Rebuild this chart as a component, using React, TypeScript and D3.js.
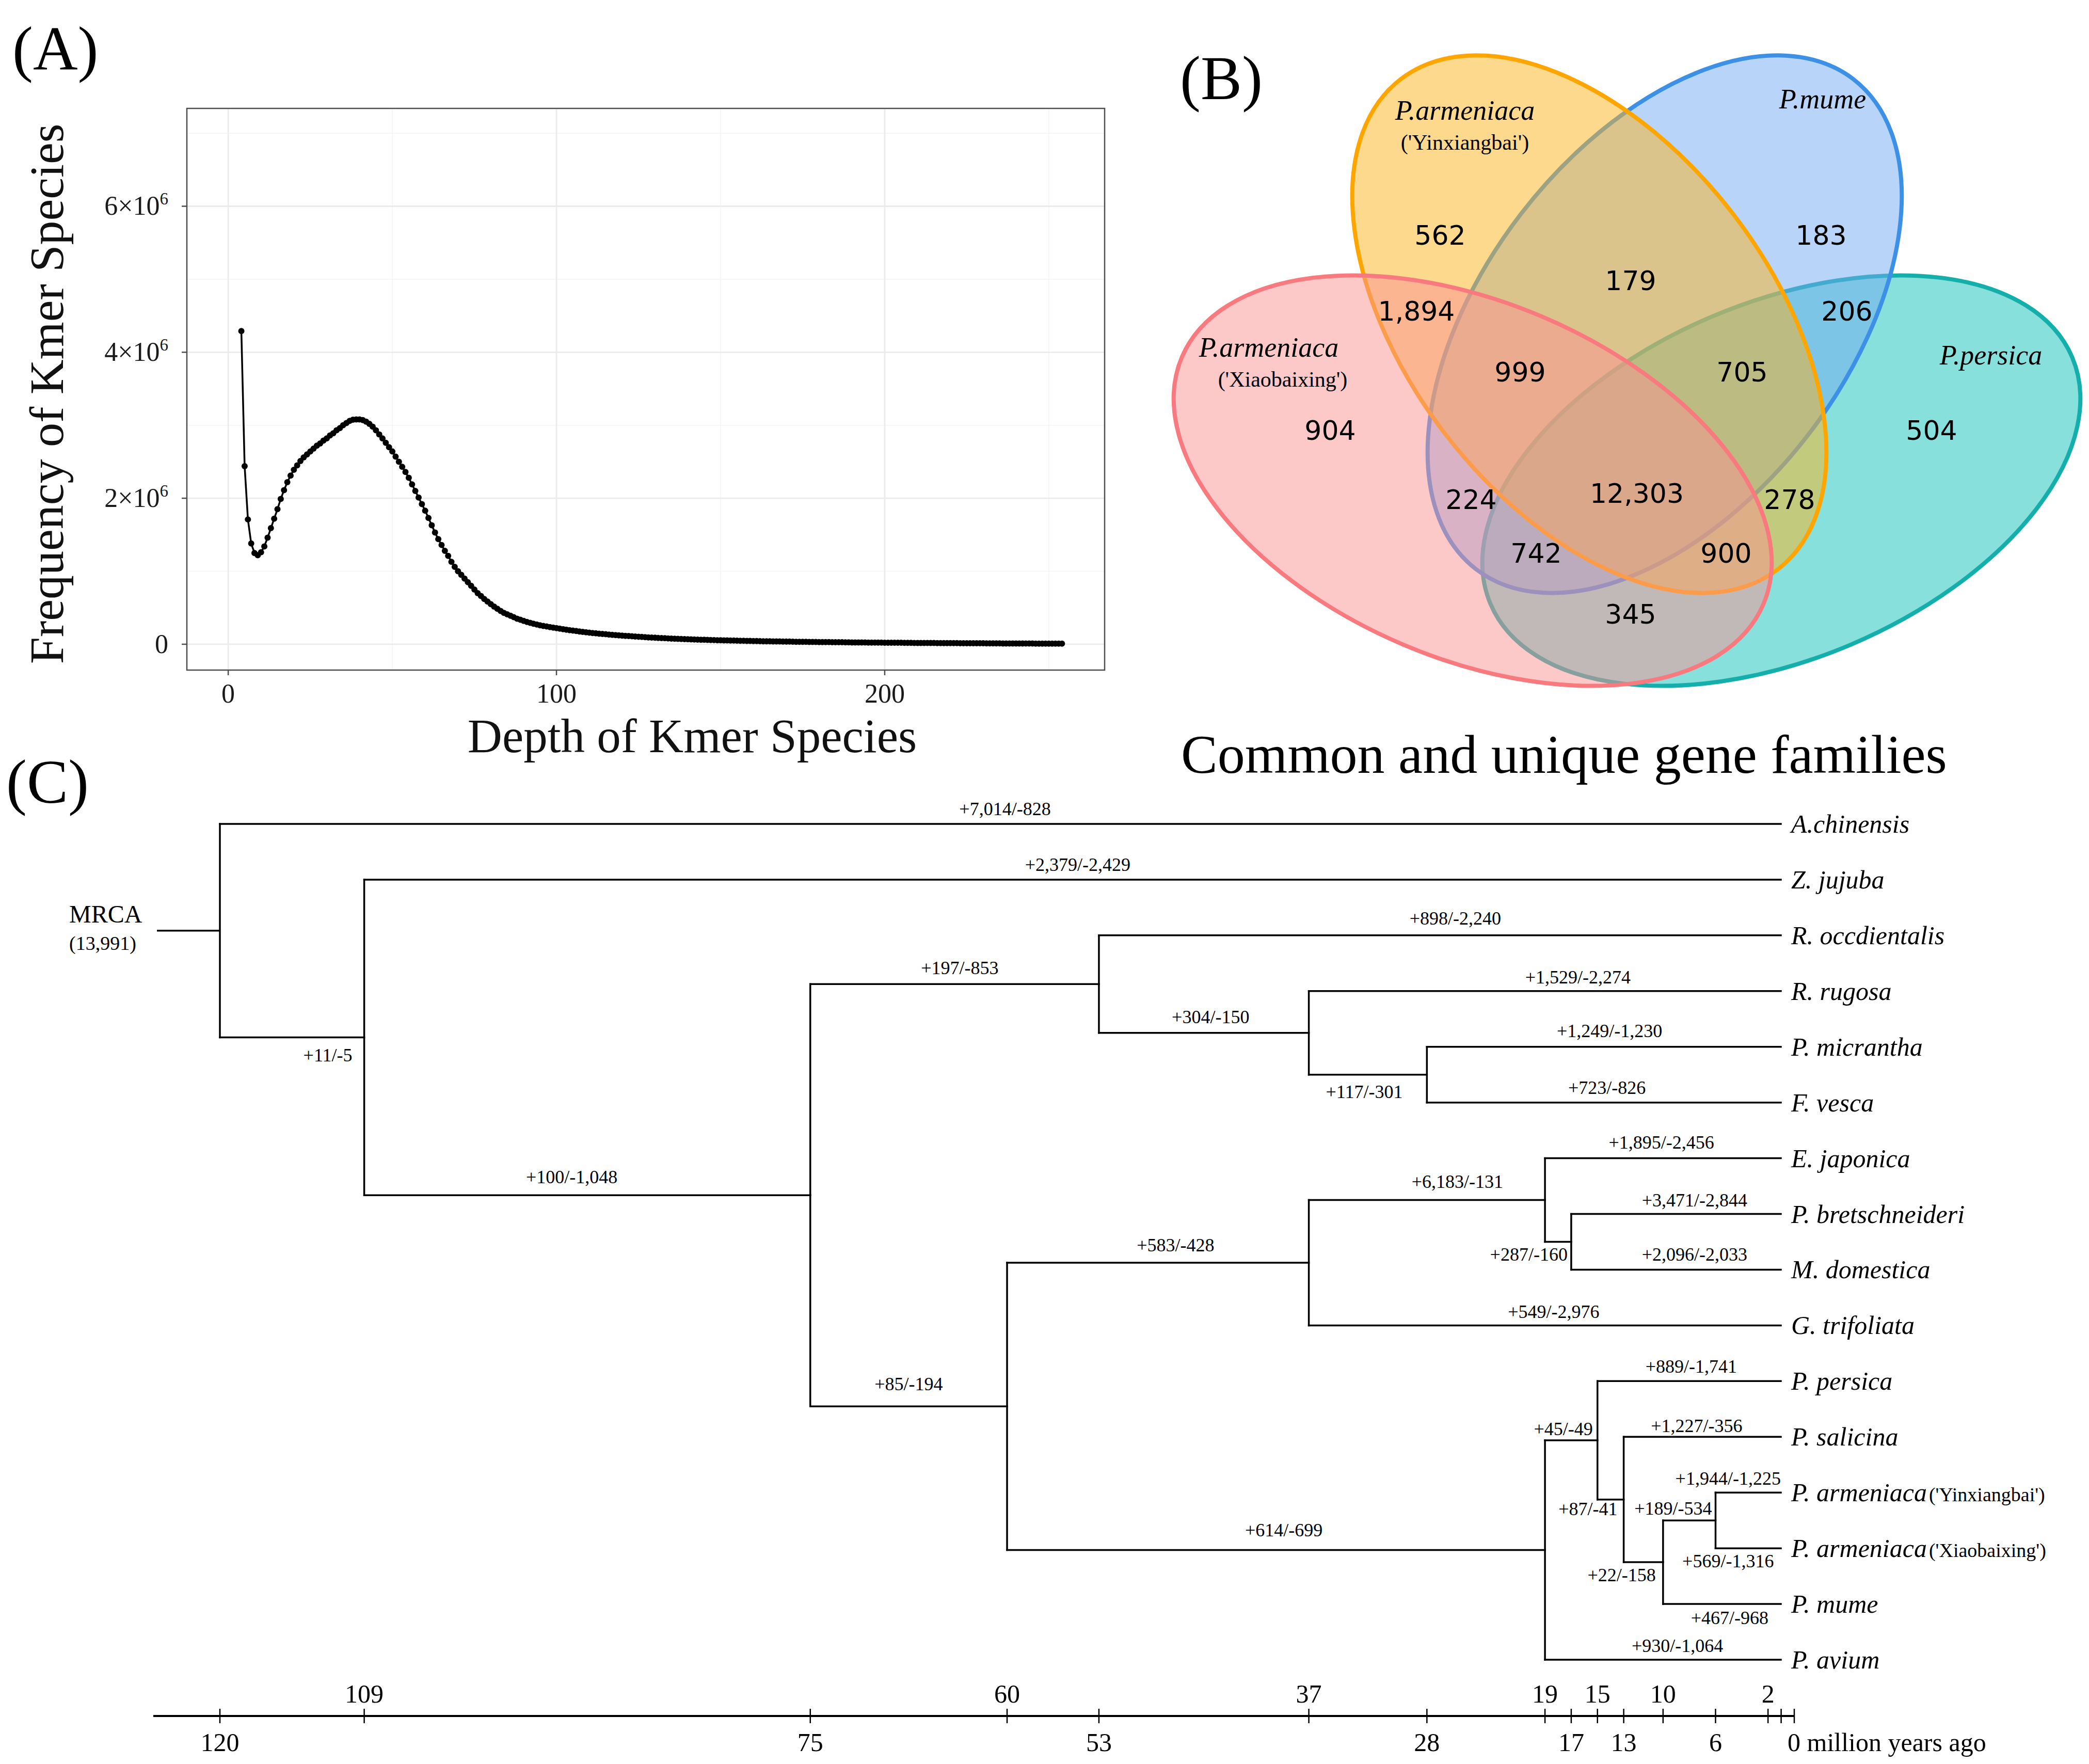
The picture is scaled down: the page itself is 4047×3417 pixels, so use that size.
import * as d3 from "d3";

// ---------- (A) k-mer depth distribution ----------
const kmerDepthStart = 4; // first depth shown, one value per depth after it
// frequency of kmer species (x10^6), depth 4 ... 254
const kmerFreq = [
  4.29, 2.44, 1.71, 1.38, 1.25, 1.22, 1.26, 1.34, 1.46, 1.59, // 4-13
  1.72, 1.85, 1.99, 2.11, 2.22, 2.31, 2.39, 2.45, 2.51, 2.56, // 14-23
  2.6, 2.64, 2.68, 2.72, 2.75, 2.79, 2.82, 2.86, 2.89, 2.93, // 24-33
  2.96, 3.0, 3.03, 3.06, 3.075, 3.08, 3.08, 3.07, 3.05, 3.02, // 34-43
  2.98, 2.93, 2.875, 2.82, 2.76, 2.7, 2.64, 2.57, 2.5, 2.43, // 44-53
  2.36, 2.28, 2.19, 2.1, 2.01, 1.92, 1.83, 1.73, 1.63, 1.53, // 54-63
  1.44, 1.36, 1.28, 1.21, 1.13, 1.06, 1.0, 0.95, 0.9, 0.85, // 64-73
  0.8, 0.75, 0.7, 0.66, 0.62, 0.585, 0.55, 0.515, 0.485, 0.455, // 74-83
  0.43, 0.41, 0.39, 0.37, 0.35, 0.335, 0.32, 0.305, 0.293, 0.281, // 84-93
  0.27, 0.26, 0.25, 0.243, 0.235, 0.228, 0.22, // 94-100
  0.213, 0.206, 0.199, 0.193, 0.187, 0.181, 0.175, 0.169, 0.164, 0.159, // 101-110
  0.154, 0.149, 0.145, 0.141, 0.137, 0.133, 0.129, 0.125, 0.122, 0.118,
  0.115, 0.112, 0.109, 0.106, 0.103, 0.1, 0.097, 0.094, 0.092, 0.089,
  0.087, 0.085, 0.082, 0.08, 0.078, 0.076, 0.074, 0.072, 0.07, 0.068,
  0.067, 0.065, 0.064, 0.062, 0.061, 0.059, 0.058, 0.057, 0.055, 0.054,
  0.053, 0.052, 0.051, 0.05, 0.049, 0.048, 0.047, 0.046, 0.045, 0.044,
  0.043, 0.042, 0.041, 0.041, 0.04, 0.039, 0.038, 0.038, 0.037, 0.036,
  0.036, 0.035, 0.034, 0.034, 0.033, 0.033, 0.032, 0.031, 0.031, 0.03,
  0.03, 0.029, 0.029, 0.028, 0.028, 0.027, 0.027, 0.026, 0.026, 0.025,
  0.025, 0.025, 0.024, 0.024, 0.023, 0.023, 0.023, 0.022, 0.022, 0.021,
  0.021, 0.021, 0.02, 0.02, 0.02, 0.019, 0.019, 0.019, 0.018, 0.018,
  0.018, 0.017, 0.017, 0.017, 0.017, 0.016, 0.016, 0.016, 0.015, 0.015,
  0.015, 0.015, 0.014, 0.014, 0.014, 0.014, 0.013, 0.013, 0.013, 0.013,
  0.012, 0.012, 0.012, 0.012, 0.012, 0.011, 0.011, 0.011, 0.011, 0.011,
  0.01, 0.01, 0.01, 0.01, 0.01, 0.009, 0.009, 0.009, 0.009, 0.009,
  0.009, 0.008, 0.008, 0.008, // 251-254
];
const kmerXTicks = [0, 100, 200];
const kmerXMinor = [50, 150, 250];
const kmerYTicks = [0, 2, 4, 6];
const kmerYMinor = [1, 3, 5, 7];

// ---------- (B) Venn of gene families ----------
const vennSetKeys = ["P", "M", "Y", "X"]; // drawing order
const vennSetNames = ["P.persica", "P.mume", "P.armeniaca", "P.armeniaca"];
const vennSetCultivars = ["", "", "('Yinxiangbai')", "('Xiaobaixing')"];
const vennRegionKeys = ["Y", "M", "X", "P", "YM", "YX", "MP", "YMX", "YMP", "MX", "YMXP", "YP", "MXP", "YXP", "XP"];
const vennCounts = [562, 183, 904, 504, 179, 1894, 206, 999, 705, 224, 12303, 278, 742, 900, 345];

// ---------- (C) gene family expansion / contraction tree ----------
const treeIds = [
  "root", "A.chinensis", "n109", "Z. jujuba", "n75", "n53", "R. occdientalis", "n37a", "R. rugosa",
  "n28", "P. micrantha", "F. vesca", "n60", "n37b", "n19a", "E. japonica", "n17", "P. bretschneideri",
  "M. domestica", "G. trifoliata", "n19b", "n15", "P. persica", "n13", "P. salicina", "n10", "n6",
  "P. armeniaca ('Yinxiangbai')", "P. armeniaca ('Xiaobaixing')", "P. mume", "P. avium",
];
const treeParents = [
  "", "root", "root", "n109", "n109", "n75", "n53", "n53", "n37a",
  "n37a", "n28", "n28", "n75", "n60", "n37b", "n19a", "n19a", "n17",
  "n17", "n37b", "n60", "n19b", "n15", "n15", "n13", "n13", "n10",
  "n6", "n6", "n10", "n19b",
];
// divergence time (million years ago), 0 for extant species
const nodeAges = [120, 0, 109, 0, 75, 53, 0, 37, 0, 28, 0, 0, 60, 37, 19, 0, 17, 0, 0, 0, 19, 15, 0, 13, 0, 10, 6, 0, 0, 0, 0];
const gains = [NaN, 7014, 11, 2379, 100, 197, 898, 304, 1529, 117, 1249, 723, 85, 583, 6183, 1895, 287, 3471, 2096, 549, 614, 45, 889, 87, 1227, 22, 189, 1944, 569, 467, 930];
const losses = [NaN, 828, 5, 2429, 1048, 853, 2240, 150, 2274, 301, 1230, 826, 194, 428, 131, 2456, 160, 2844, 2033, 2976, 699, 49, 1741, 41, 356, 158, 534, 1225, 1316, 968, 1064];
const mrcaFamilies = 13991;
const timeTicksTop = [109, 60, 37, 19, 15, 10, 2];
const timeTicksBottom = [120, 75, 53, 28, 17, 13, 6, 0];
const timeTicksBlank = [1];

const serif = "'Liberation Serif', 'Times New Roman', serif";
const sans = "'DejaVu Sans', sans-serif";

function KmerPanel() {
  const x = d3.scaleLinear().domain([-12.6, 267]).range([362, 2140]);
  const y = d3.scaleLinear().domain([-0.354, 7.34]).range([1298, 210]);
  const pts = kmerFreq.map((v, i) => [kmerDepthStart + i, v] as [number, number]);
  const line = d3.line<[number, number]>().x((d) => x(d[0])).y((d) => y(d[1]));
  const [x0, x1] = x.range();
  const [yb, yt] = y.range();
  return (
    <g>
      {kmerXMinor.map((t) => (
        <line key={"xm" + t} x1={x(t)} x2={x(t)} y1={yt} y2={yb} stroke="#F4F4F4" strokeWidth={1.6} />
      ))}
      {kmerYMinor.map((t) => (
        <line key={"ym" + t} x1={x0} x2={x1} y1={y(t)} y2={y(t)} stroke="#F4F4F4" strokeWidth={1.6} />
      ))}
      {kmerXTicks.map((t) => (
        <line key={"xg" + t} x1={x(t)} x2={x(t)} y1={yt} y2={yb} stroke="#EBEBEB" strokeWidth={2.8} />
      ))}
      {kmerYTicks.map((t) => (
        <line key={"yg" + t} x1={x0} x2={x1} y1={y(t)} y2={y(t)} stroke="#EBEBEB" strokeWidth={2.8} />
      ))}
      <path d={line(pts) ?? ""} fill="none" stroke="#000" strokeWidth={3.5} />
      {pts.map((p) => (
        <circle key={p[0]} cx={x(p[0])} cy={y(p[1])} r={6} fill="#000" />
      ))}
      <rect x={x0} y={yt} width={x1 - x0} height={yb - yt} fill="none" stroke="#4d4d4d" strokeWidth={2.5} />
      {kmerXTicks.map((t) => (
        <g key={"xt" + t}>
          <line x1={x(t)} x2={x(t)} y1={yb} y2={yb + 10} stroke="#4d4d4d" strokeWidth={2.5} />
          <text x={x(t)} y={yb + 63} textAnchor="middle" fontFamily={serif} fontSize={52} fill="#1a1a1a">
            {t}
          </text>
        </g>
      ))}
      {kmerYTicks.map((t) => (
        <g key={"yt" + t}>
          <line x1={x0 - 10} x2={x0} y1={y(t)} y2={y(t)} stroke="#4d4d4d" strokeWidth={2.5} />
          <text x={x0 - 36} y={y(t) + 17} textAnchor="end" fontFamily={serif} fontSize={52} fill="#1a1a1a">
            {t === 0 ? (
              "0"
            ) : (
              <>
                <tspan>{t}{"\u00d710"}</tspan>
                <tspan dy={-20} fontSize={33}>6</tspan>
              </>
            )}
          </text>
        </g>
      ))}
      <text x={1341} y={1457} textAnchor="middle" fontFamily={serif} fontSize={93} fill="#111">
        Depth of Kmer Species
      </text>
      <text
        transform={`translate(122,763) rotate(-90)`}
        textAnchor="middle"
        fontFamily={serif}
        fontSize={94}
        fill="#111"
      >
        Frequency of Kmer Species
      </text>
    </g>
  );
}

// ellipse geometry of the Venn layout
const vennShape: Record<string, { cx: number; cy: number; rx: number; ry: number; rot: number; fill: string; stroke: string }> = {
  P: { cx: 3451, cy: 931, rx: 612, ry: 345, rot: -23, fill: "#11C1B9", stroke: "#14AFAA" },
  M: { cx: 3225, cy: 628, rx: 599, ry: 351, rot: -52.4, fill: "#71A9F1", stroke: "#3C91E6" },
  Y: { cx: 3079, cy: 628, rx: 599, ry: 351, rot: 52.4, fill: "#FBB31D", stroke: "#FFA500" },
  X: { cx: 2853, cy: 931, rx: 612, ry: 345, rot: 23, fill: "#F99191", stroke: "#F87A7F" },
};
const vennLabelPos: Record<string, [number, number]> = {
  Y: [2790, 455], M: [3528, 455], YM: [3159, 543], YX: [2744, 602], MP: [3578, 602],
  YMX: [2945, 720], YMP: [3375, 720], X: [2577, 833], P: [3742, 833], MX: [2850, 967],
  YMXP: [3171, 955], YP: [3467, 967], MXP: [2976, 1071], YXP: [3344, 1071], XP: [3159, 1189],
};
const vennNamePos: Record<string, [number, number]> = {
  Y: [2838, 232], M: [3531, 210], X: [2458, 691], P: [3857, 706],
};

function VennPanel() {
  const fmt = d3.format(",");
  return (
    <g>
      {vennSetKeys.map((k) => {
        const s = vennShape[k];
        return (
          <ellipse
            key={k}
            cx={s.cx}
            cy={s.cy}
            rx={s.rx}
            ry={s.ry}
            transform={`rotate(${s.rot} ${s.cx} ${s.cy})`}
            fill={s.fill}
            fillOpacity={0.5}
            stroke={s.stroke}
            strokeWidth={8}
          />
        );
      })}
      {vennRegionKeys.map((k, i) => (
        <text
          key={k}
          x={vennLabelPos[k][0]}
          y={vennLabelPos[k][1] + 19}
          textAnchor="middle"
          fontFamily={sans}
          fontSize={52}
          fill="#000"
        >
          {fmt(vennCounts[i])}
        </text>
      ))}
      {vennSetKeys.map((k, i) => {
        const [nx, ny] = vennNamePos[k];
        return (
          <g key={"n" + k}>
            <text x={nx} y={ny} textAnchor="middle" fontFamily={serif} fontStyle="italic" fontSize={54} fill="#000">
              {vennSetNames[i]}
            </text>
            {vennSetCultivars[i] && (
              <text x={nx + (k === "X" ? 27 : 0)} y={ny + 58} textAnchor="middle" fontFamily={serif} fontSize={42} fill="#000">
                {vennSetCultivars[i]}
              </text>
            )}
          </g>
        );
      })}
      <text x={2288} y={1497} fontFamily={serif} fontSize={106} fill="#000">
        Common and unique gene families
      </text>
    </g>
  );
}

// placement of the +gain/-loss labels: [mode, dx, dy]
const branchLabelLayout: Record<string, [string, number, number?]> = {
  "A.chinensis": ["above", 9],
  "Z. jujuba": ["above", 10],
  n109: ["belowEnd", -23, 46],
  n75: ["above", -30, -23],
  n53: ["above", 10, -19],
  "R. occdientalis": ["above", 30, -21],
  n37a: ["above", 13, -19],
  "R. rugosa": ["above", 64, -15],
  n28: ["below", -7, 45],
  "P. micrantha": ["above", 11, -19],
  "F. vesca": ["above", 6, -17],
  n60: ["above", 0, -31],
  n37b: ["above", 34, -22],
  n19a: ["above", 59, -24],
  "E. japonica": ["above", -3, -19],
  n17: ["belowEnd", -7, 36],
  "P. bretschneideri": ["above", 36, -15],
  "M. domestica": ["above", 36, -17],
  "G. trifoliata": ["above", 17, -14],
  n19b: ["above", 15, -27],
  n15: ["aboveEnd", -9, -10],
  "P. persica": ["above", 4, -16],
  n13: ["belowEnd", -12, 30],
  "P. salicina": ["above", -11, -9],
  n10: ["belowEnd", -14, 37],
  n6: ["aboveEnd", -7, -11],
  "P. armeniaca ('Yinxiangbai')": ["above", -39, -15],
  "P. armeniaca ('Xiaobaixing')": ["below", -39, 37],
  "P. mume": ["below", 15, 39],
  "P. avium": ["above", 28, -15],
};

function TreePanel() {
  const fmt = d3.format(",");
  const table = treeIds.map((id, i) => ({
    id,
    parent: treeParents[i] || null,
    age: nodeAges[i],
    gain: gains[i],
    loss: losses[i],
  }));
  type Row = (typeof table)[number];
  const root = d3
    .stratify<Row>()
    .id((d) => d.id)
    .parentId((d) => d.parent)(table);

  const t = d3.scaleLinear().domain([120, 0]).range([426, 3476]);
  const leaves = root.leaves();
  const yLeaf = d3
    .scalePoint<string>()
    .domain(leaves.map((l) => l.data.id))
    .range([1596, 3215]);
  const tipInset = 26;
  const ys = new Map<string, number>();
  root.eachAfter((n) => {
    if (!n.children) ys.set(n.data.id, yLeaf(n.data.id) as number);
    else ys.set(n.data.id, d3.mean(n.children, (c) => ys.get(c.data.id)!) as number);
  });
  const xOf = (n: d3.HierarchyNode<Row>) => (n.children ? t(n.data.age) : t(0) - tipInset);

  const segs: { x1: number; y1: number; x2: number; y2: number }[] = [];
  const labels: { x: number; y: number; anchor: string; text: string }[] = [];
  root.each((n) => {
    const x = xOf(n);
    const y = ys.get(n.data.id)!;
    if (n.children) {
      const cy = n.children.map((c) => ys.get(c.data.id)!);
      segs.push({ x1: x, y1: d3.min(cy)!, x2: x, y2: d3.max(cy)! });
    }
    if (n.parent) {
      const px = xOf(n.parent);
      segs.push({ x1: px, y1: y, x2: x, y2: y });
      const [mode, dx, dyRaw] = branchLabelLayout[n.data.id] ?? ["above", 0];
      const below = mode.startsWith("below");
      const dy = dyRaw ?? (below ? 37 : -17);
      const end = mode.endsWith("End");
      labels.push({
        x: end ? x + dx : (px + x) / 2 + dx,
        y: y + dy,
        anchor: end ? "end" : "middle",
        text: `+${fmt(n.data.gain)}/-${fmt(n.data.loss)}`,
      });
    }
  });
  const rootY = ys.get("root")!;
  const stubX = t(124.8);
  const axisY = 3324;

  return (
    <g>
      <line x1={stubX} x2={t(120)} y1={rootY} y2={rootY} stroke="#000" strokeWidth={3.5} />
      {segs.map((s, i) => (
        <line key={i} x1={s.x1} y1={s.y1} x2={s.x2} y2={s.y2} stroke="#000" strokeWidth={3.5} strokeLinecap="square" />
      ))}
      {labels.map((l, i) => (
        <text key={i} x={l.x} y={l.y} textAnchor={l.anchor} fontFamily={serif} fontSize={36} fill="#000">
          {l.text}
        </text>
      ))}
      {leaves.map((l) => {
        const name = l.data.id;
        const k = name.indexOf(" (");
        const main = k >= 0 ? name.slice(0, k) : name;
        const cult = k >= 0 ? name.slice(k + 1) : "";
        return (
          <text key={name} x={xOf(l) + 20} y={ys.get(name)! + 17} fontFamily={serif} fontSize={50} fill="#000">
            <tspan fontStyle="italic">{main}</tspan>
            {cult && (
              <tspan dx={4} fontSize={38}>
                {cult}
              </tspan>
            )}
          </text>
        );
      })}
      <text x={134} y={rootY - 16} fontFamily={serif} fontSize={48} fill="#000">
        MRCA
      </text>
      <text x={134} y={rootY + 37} fontFamily={serif} fontSize={38} fill="#000">
        ({fmt(mrcaFamilies)})
      </text>

      {/* time axis */}
      <line x1={297} x2={t(0)} y1={axisY} y2={axisY} stroke="#000" strokeWidth={4} />
      {[...timeTicksTop, ...timeTicksBottom, ...timeTicksBlank].map((v) => (
        <line key={"tk" + v} x1={t(v)} x2={t(v)} y1={axisY - 14} y2={axisY + 14} stroke="#000" strokeWidth={2.5} />
      ))}
      {timeTicksTop.map((v) => (
        <text key={"tt" + v} x={t(v)} y={axisY - 26} textAnchor="middle" fontFamily={serif} fontSize={50} fill="#000">
          {v}
        </text>
      ))}
      {timeTicksBottom.map((v) => (
        <text
          key={"tb" + v}
          x={v === 0 ? t(v) - 13 : t(v)}
          y={axisY + 68}
          textAnchor={v === 0 ? "start" : "middle"}
          fontFamily={serif}
          fontSize={50}
          fill="#000"
        >
          {v === 0 ? "0 million years ago" : v}
        </text>
      ))}
    </g>
  );
}

export default function App() {
  return (
    <svg
      width={4047}
      height={3417}
      viewBox="0 0 4047 3417"
      style={{ position: "absolute", left: 0, top: 0, background: "#fff" }}
    >
      <rect width={4047} height={3417} fill="#fff" />
      <KmerPanel />
      <VennPanel />
      <TreePanel />
      <text x={24} y={135} fontFamily={serif} fontSize={120} fill="#000">
        (A)
      </text>
      <text x={2286} y={192} fontFamily={serif} fontSize={120} fill="#000">
        (B)
      </text>
      <text x={12} y={1555} fontFamily={serif} fontSize={120} fill="#000">
        (C)
      </text>
    </svg>
  );
}
